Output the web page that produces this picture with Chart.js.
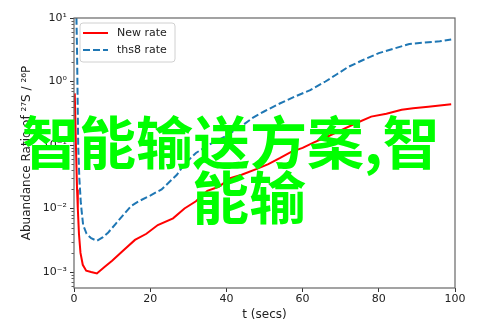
<!DOCTYPE html>
<html>
<head>
<meta charset="utf-8">
<script src="https://cdn.jsdelivr.net/npm/chart.js@4/dist/chart.umd.min.js"></script>
<style>
  html, body { margin: 0; padding: 0; background: #fff; }
  #wrap { width: 493px; height: 329px; }
</style>
</head>
<body>
<div id="wrap"><canvas id="grafico" width="493" height="329"></canvas></div>
<script>
"use strict";
// Datos de las dos curvas (t en segundos, cociente de abundancias)
const tiemposNew = [0.2, 0.5, 0.8, 1.0, 1.3, 1.7, 2.3, 3.2, 4.5, 6, 8, 10, 13, 16, 19, 22, 26, 29, 32, 35, 38, 41, 44, 48, 51, 54, 57, 60, 63, 67, 70, 74, 78, 82, 86, 89, 93, 99];
const valoresNew = [0.65, 0.1, 0.02, 0.01, 0.004, 0.002, 0.0013, 0.00105, 0.001, 0.00095, 0.0012, 0.0015, 0.0022, 0.0032, 0.004, 0.0055, 0.007, 0.01, 0.013, 0.019, 0.022, 0.03, 0.034, 0.042, 0.05, 0.062, 0.078, 0.09, 0.11, 0.14, 0.17, 0.22, 0.28, 0.31, 0.36, 0.38, 0.4, 0.44];
const tiemposThs8 = [0.5, 0.8, 1.1, 1.4, 1.8, 2.4, 3.3, 4.5, 6, 7.5, 9, 11, 13, 15, 17, 20, 23, 27, 29, 32, 36, 40, 44, 47, 50, 54, 58, 62, 66, 69, 72, 76, 80, 84, 88, 92, 96, 99];
const valoresThs8 = [30, 3, 0.1, 0.03, 0.012, 0.0055, 0.004, 0.0034, 0.0031, 0.0035, 0.0042, 0.0058, 0.008, 0.011, 0.013, 0.016, 0.02, 0.034, 0.05, 0.075, 0.105, 0.14, 0.2, 0.27, 0.34, 0.45, 0.58, 0.73, 1.0, 1.3, 1.7, 2.2, 2.8, 3.3, 3.9, 4.1, 4.3, 4.6];
const etiquetasSeries = ["New rate", "ths8 rate"];
const ticksX = [0, 20, 40, 60, 80, 100];
const exponentesY = [-3, -2, -1, 0, 1];
const lineasTexto = ["智能输送方案,智", "能输"];

const SUP = { "-": "⁻", "0": "⁰", "1": "¹", "2": "²", "3": "³", "4": "⁴", "5": "⁵", "6": "⁶", "7": "⁷", "8": "⁸", "9": "⁹" };
function potencia(e) {
    return "10" + String(e).split("").map(c => SUP[c]).join("");
}
function puntos(ts, vs) {
    return ts.map((t, i) => ({ x: t, y: vs[i] }));
}

const fuente = "'DejaVu Sans', sans-serif";

// marco, ticks menores, leyenda y texto superpuesto
const extras = {
    id: "extras",
    afterDatasetsDraw(chart) {
        const { ctx, chartArea: a } = chart;
        const y = chart.scales.y;
        ctx.save();
        ctx.strokeStyle = "#333";
        ctx.lineWidth = 0.8;
        for (let e = -4; e <= 1; e++) {
            for (let k = 2; k <= 9; k++) {
                const v = k * Math.pow(10, e);
                if (v < y.min || v > y.max) continue;
                const py = Math.round(y.getPixelForValue(v)) + 0.5;
                ctx.beginPath();
                ctx.moveTo(a.left - 2.5, py);
                ctx.lineTo(a.left, py);
                ctx.stroke();
            }
        }
        ctx.strokeStyle = "#666";
        ctx.lineWidth = 1.2;
        ctx.strokeRect(a.left, a.top, a.right - a.left, a.bottom - a.top);

        // leyenda
        const lx = a.left + 6, ly = a.top + 5, lw = 95, lh = 39;
        ctx.beginPath();
        ctx.roundRect(lx, ly, lw, lh, 3);
        ctx.fillStyle = "rgba(255,255,255,0.8)";
        ctx.fill();
        ctx.strokeStyle = "#d0d0d0";
        ctx.lineWidth = 1;
        ctx.stroke();
        chart.data.datasets.forEach((ds, i) => {
            const yy = ly + 10 + i * 17;
            ctx.beginPath();
            ctx.strokeStyle = ds.borderColor;
            ctx.lineWidth = ds.borderWidth;
            ctx.setLineDash(ds.borderDash || []);
            ctx.moveTo(lx + 3, yy);
            ctx.lineTo(lx + 28, yy);
            ctx.stroke();
            ctx.setLineDash([]);
            ctx.fillStyle = "#222";
            ctx.font = "11px " + fuente;
            ctx.textBaseline = "middle";
            ctx.textAlign = "left";
            ctx.fillText(ds.label, lx + 37, yy);
        });
        ctx.restore();
    },
    afterDraw(chart) {
        const ctx = chart.ctx;
        ctx.save();
        ctx.font = "bold 57px 'Noto Sans CJK SC'";
        ctx.fillStyle = "#00ff00";
        ctx.textBaseline = "middle";
        ctx.textAlign = "left";
        ctx.fillText(lineasTexto[0], 22, 142);
        ctx.fillText(lineasTexto[1], 192, 197);
        ctx.restore();
    }
};

new Chart(document.getElementById("grafico"), {
    type: "line",
    data: {
        datasets: [
            {
                label: etiquetasSeries[0],
                data: puntos(tiemposNew, valoresNew),
                borderColor: "#ff0000",
                borderWidth: 2,
                pointRadius: 0,
                tension: 0
            },
            {
                label: etiquetasSeries[1],
                data: puntos(tiemposThs8, valoresThs8),
                borderColor: "#1f77b4",
                borderWidth: 2,
                borderDash: [7, 3],
                pointRadius: 0,
                tension: 0
            }
        ]
    },
    options: {
        responsive: false,
        animation: false,
        devicePixelRatio: 1,
        layout: { padding: { left: 16, top: 18, right: 38, bottom: 3 } },
        plugins: { legend: { display: false }, tooltip: { enabled: false } },
        scales: {
            x: {
                type: "linear",
                min: 0,
                max: 100,
                afterBuildTicks: s => { s.ticks = ticksX.map(v => ({ value: v })); },
                afterFit: s => { s.height = 38; },
                ticks: { color: "#222", font: { family: fuente, size: 11 }, padding: 1, maxRotation: 0 },
                grid: { display: true, drawOnChartArea: false, tickLength: 4, tickColor: "#333" },
                border: { display: false },
                title: { display: true, text: "t (secs)", color: "#222", font: { family: fuente, size: 12 }, padding: { top: 2, bottom: 4 } }
            },
            y: {
                type: "logarithmic",
                min: 5.6e-4,
                max: 10,
                afterBuildTicks: s => { s.ticks = exponentesY.map(e => ({ value: Math.pow(10, e) })); },
                afterFit: s => { s.width = 58; },
                ticks: {
                    color: "#222",
                    font: { family: fuente, size: 11 },
                    padding: 3,
                    callback: v => potencia(Math.round(Math.log10(v)))
                },
                grid: { display: true, drawOnChartArea: false, tickLength: 4, tickColor: "#333" },
                border: { display: false },
                title: { display: true, text: "Abuandance Ratio of ²⁷S / ²⁶P", color: "#222", font: { family: fuente, size: 12 }, padding: { top: 4, bottom: 4 } }
            }
        }
    },
    plugins: [extras]
});
</script>
</body>
</html>
